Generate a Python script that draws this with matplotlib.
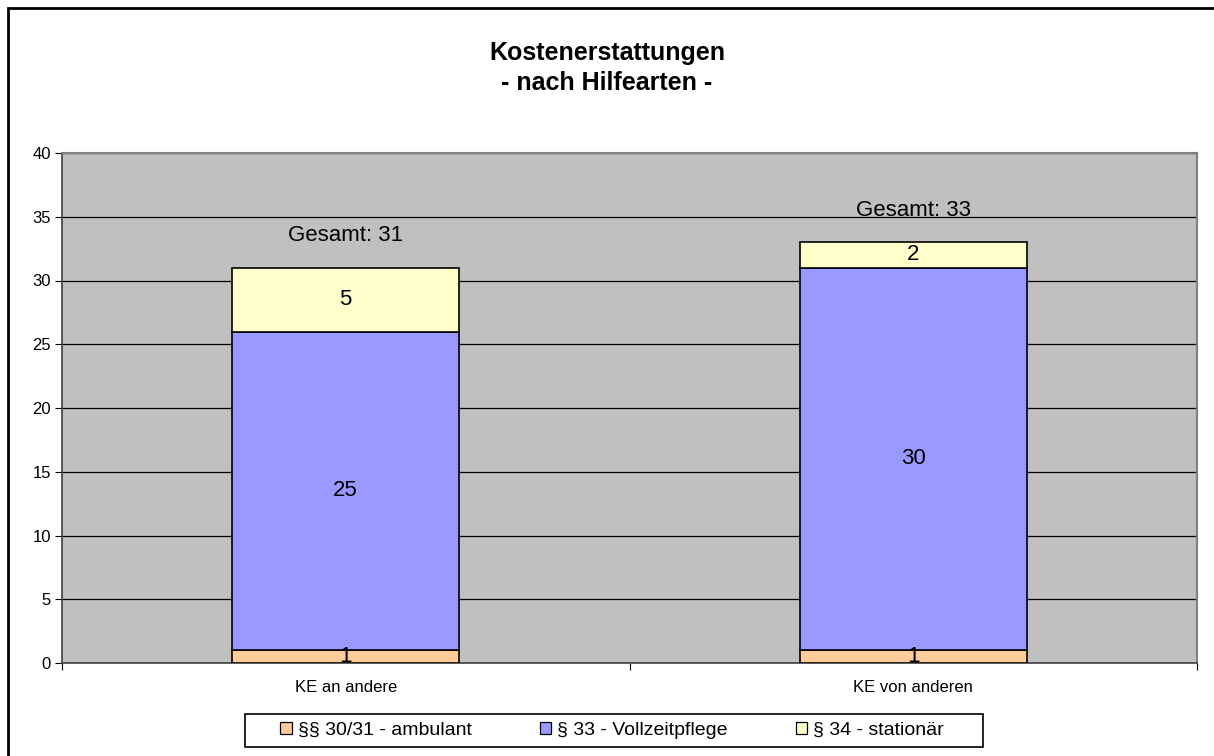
import matplotlib
matplotlib.use("Agg")
import matplotlib.pyplot as plt
from matplotlib.patches import Rectangle
from matplotlib.patches import Patch

categories = ["KE an andere", "KE von anderen"]
series_names = ["§§ 30/31 - ambulant", "§ 33 - Vollzeitpflege", "§ 34 - stationär"]
ambulant = [1, 1]
vollzeit = [25, 30]
stationaer = [5, 2]
colors = ["#FFCC99", "#9999FF", "#FFFFCC"]

plt.rcParams["font.family"] = ["Liberation Sans", "DejaVu Sans"]

W, H = 1214, 756
fig = plt.figure(figsize=(W / 100, H / 100), dpi=100)

# outer frame (runs off the right/bottom edge like the original)
fig.patches.append(Rectangle((8 / W, -0.1), 1.2, 1 - 8 / H + 0.1, transform=fig.transFigure,
                             fill=False, edgecolor="black", linewidth=2))

ax = fig.add_axes([62 / W, 1 - 663 / H, (1197 - 62) / W, (663 - 153) / H])
ax.set_facecolor("#C0C0C0")

x = list(range(len(categories)))
series = [ambulant, vollzeit, stationaer]
bottom = [0] * len(categories)
for vals, col, name in zip(series, colors, series_names):
    ax.bar(x, vals, width=0.4, bottom=bottom, color=col, edgecolor="black",
           linewidth=1.2, label=name, zorder=3)
    for xi, v, b in zip(x, vals, bottom):
        ax.text(xi, b + v / 2, str(v), ha="center", va="center", fontsize=16, zorder=4)
    bottom = [b + v for b, v in zip(bottom, vals)]

for xi, tot in zip(x, bottom):
    ax.text(xi, tot + 2.5, f"Gesamt: {tot}", ha="center", va="center", fontsize=16, zorder=4)

ax.set_xlim(-0.5, len(categories) - 0.5)
ax.set_ylim(0, 40)
ax.set_yticks(range(0, 41, 5))
ax.yaxis.grid(True, color="black", linewidth=0.9, zorder=1)
ax.set_axisbelow(True)
ax.set_xticks([-0.5, 0.5, 1.5])
ax.set_xticklabels([])
ax.set_xticks(x, minor=True)
ax.set_xticklabels(categories, minor=True)
ax.tick_params(axis="x", which="minor", length=0, pad=12, labelsize=12)
ax.tick_params(axis="x", which="major", length=5, color="black")
ax.tick_params(axis="y", length=5, labelsize=12, pad=3)
for s in ["left", "bottom"]:
    ax.spines[s].set_color("#404040")
    ax.spines[s].set_linewidth(1.2)
for s in ["top", "right"]:
    ax.spines[s].set_color("#808080")
    ax.spines[s].set_linewidth(1.5)

fig.text(0.5, 1 - 53 / H, "Kostenerstattungen", ha="center", va="center",
         fontsize=18, fontweight="bold")
fig.text(0.5, 1 - 83 / H, "- nach Hilfearten -", ha="center", va="center",
         fontsize=18, fontweight="bold")

# legend box drawn separately so it can be wider than the entries
fig.patches.append(Rectangle((245 / W, 1 - 747 / H), (983 - 245) / W, 33 / H,
                             transform=fig.transFigure, facecolor="white",
                             edgecolor="black", linewidth=1.2))
handles = [Patch(facecolor=c, edgecolor="black", linewidth=0.9) for c in colors]
leg = fig.legend(handles, series_names, loc="center", bbox_to_anchor=(612 / W, 1 - 730.5 / H),
                 ncol=3, fontsize=14, frameon=False, handlelength=0.6,
                 handleheight=0.6, handletextpad=0.3, columnspacing=3.5)

fig.savefig("out.png", dpi=100)
